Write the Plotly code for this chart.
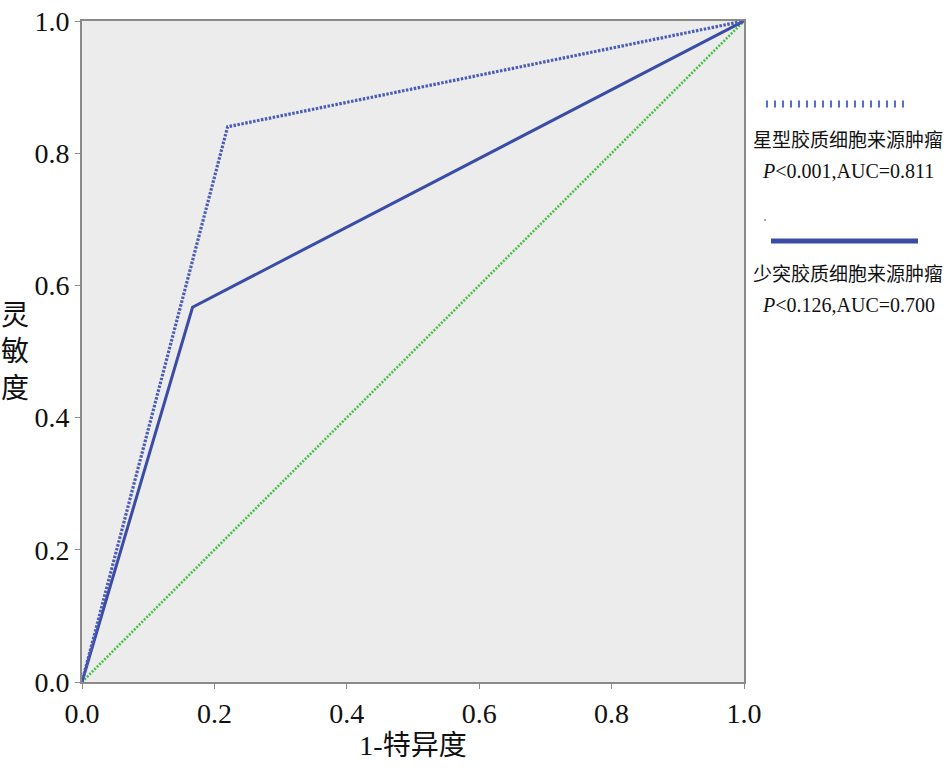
import plotly.graph_objects as go

# data
star_x = [0.0, 0.22, 1.0]
star_y = [0.0, 0.84, 1.0]
oligo_x = [0.0, 0.167, 1.0]
oligo_y = [0.0, 0.567, 1.0]
ref_x = [0.0, 1.0]
ref_y = [0.0, 1.0]
tick_vals = [0.0, 0.2, 0.4, 0.6, 0.8, 1.0]
tick_text = ["0.0", "0.2", "0.4", "0.6", "0.8", "1.0"]
legend_names = ["星型胶质细胞来源肿瘤", "少突胶质细胞来源肿瘤"]
legend_stats = ["<i>P</i><0.001,AUC=0.811", "<i>P</i><0.126,AUC=0.700"]

FONT = "Liberation Serif, Times New Roman, Noto Sans CJK SC, serif"

fig = go.Figure()
fig.add_trace(go.Scatter(x=ref_x, y=ref_y, mode="lines",
                         line=dict(color="#48c048", width=2.6, dash="2px,1.5px"),
                         showlegend=False))
fig.add_trace(go.Scatter(x=oligo_x, y=oligo_y, mode="lines",
                         line=dict(color="#3a4ca6", width=3),
                         showlegend=False))
fig.add_trace(go.Scatter(x=star_x, y=star_y, mode="lines",
                         line=dict(color="#4a5cb8", width=3.2, dash="2.5px,1.5px"),
                         showlegend=False))

axis_common = dict(range=[0, 1], tickvals=tick_vals, ticktext=tick_text,
                   showgrid=False, zeroline=False, showline=True,
                   linecolor="#8a8a8a", linewidth=2, mirror=True,
                   ticks="outside", ticklen=5, tickcolor="#8a8a8a",
                   tickfont=dict(family=FONT, size=28, color="#111"))

fig.update_layout(
    width=948, height=768,
    margin=dict(l=82, r=204, t=21, b=86, autoexpand=False),
    paper_bgcolor="white", plot_bgcolor="#ececec",
    xaxis=dict(**axis_common, title=dict(text="1-特异度",
               font=dict(family=FONT, size=28, color="#111"), standoff=8)),
    yaxis=dict(**axis_common),
)

# y title stacked vertically
fig.add_annotation(x=0, y=0.5, xref="paper", yref="paper", xshift=-67,
                   text="灵<br>敏<br>度", showarrow=False, xanchor="center",
                   yanchor="middle", align="center",
                   font=dict(family=FONT, size=28, color="#111"))

# custom legend (paper coordinates relative to plot area)
def px_to_paper_x(px):
    return (px - 82) / (744 - 82)

def px_to_paper_y(py):
    return (682 - py) / (682 - 21)

fig.add_shape(type="line", xref="paper", yref="paper",
              x0=px_to_paper_x(766), x1=px_to_paper_x(908),
              y0=px_to_paper_y(104), y1=px_to_paper_y(104),
              line=dict(color="#5a6cc0", width=7, dash="2px,6px"))
fig.add_shape(type="line", xref="paper", yref="paper",
              x0=px_to_paper_x(771), x1=px_to_paper_x(918),
              y0=px_to_paper_y(241), y1=px_to_paper_y(241),
              line=dict(color="#3a4ca6", width=5))
fig.add_shape(type="circle", xref="paper", yref="paper",
              x0=px_to_paper_x(764), x1=px_to_paper_x(766),
              y0=px_to_paper_y(219), y1=px_to_paper_y(221),
              line=dict(width=0), fillcolor="#888")

for name, stat, yn, ys in [(legend_names[0], legend_stats[0], 140, 171),
                           (legend_names[1], legend_stats[1], 274, 305)]:
    fig.add_annotation(x=px_to_paper_x(848), y=px_to_paper_y(yn), xref="paper", yref="paper",
                       text=name, showarrow=False, xanchor="center", yanchor="middle",
                       font=dict(family=FONT, size=19, color="#111"))
    fig.add_annotation(x=px_to_paper_x(848), y=px_to_paper_y(ys), xref="paper", yref="paper",
                       text=stat, showarrow=False, xanchor="center", yanchor="middle",
                       font=dict(family=FONT, size=20, color="#111"))

fig.write_html("out.html", config={"displayModeBar": False},
               post_script="document.body.style.margin='0';document.body.style.overflow='hidden';")
